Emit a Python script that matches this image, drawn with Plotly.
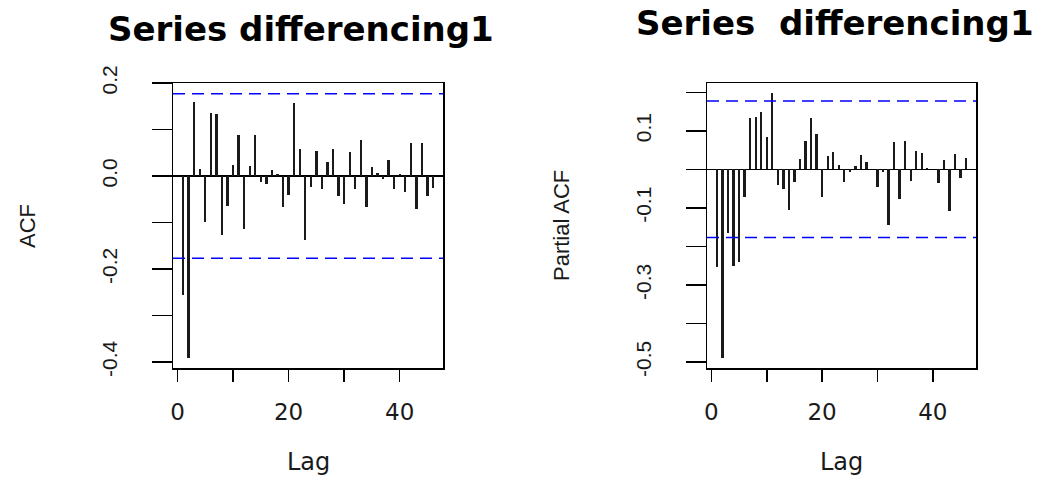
import plotly.graph_objects as go

W, H = 1056, 477
OFF = 0  # body margin removed by post_script below

lags = list(range(1, 47))
acf_vals = [-0.256, -0.391, 0.160, 0.016, -0.099, 0.136, 0.134, -0.126, -0.064, 0.024,
            0.089, -0.114, 0.021, 0.089, -0.014, -0.017, 0.012, 0.004, -0.067, -0.040,
            0.157, 0.057, -0.138, -0.023, 0.054, -0.029, 0.030, 0.057, -0.044, -0.061,
            0.051, -0.029, 0.077, -0.067, 0.019, 0.006, -0.007, 0.034, -0.029, 0.004,
            -0.035, 0.071, -0.070, 0.071, -0.044, -0.026]
pacf_vals = [-0.254, -0.490, -0.165, -0.250, -0.241, -0.073, 0.134, 0.137, 0.148, 0.084,
             0.198, -0.040, -0.051, -0.105, -0.034, 0.026, 0.073, 0.134, 0.091, -0.073,
             0.034, 0.045, 0.012, -0.034, -0.008, 0.009, 0.037, 0.020, 0.002, -0.047,
             -0.008, -0.144, 0.070, -0.076, 0.073, -0.029, 0.048, 0.042, 0.003, 0.001,
             -0.036, 0.023, -0.108, 0.041, -0.022, 0.030]
ci_bound = 0.177

x_tickvals = [0, 10, 20, 30, 40]
x_ticktext = ["0", "", "20", "", "40"]
acf_tickvals = [-0.4, -0.3, -0.2, -0.1, 0.0, 0.1, 0.2]
acf_ticktext = ["-0.4", "", "-0.2", "", "0.0", "", "0.2"]
pacf_tickvals = [-0.5, -0.4, -0.3, -0.2, -0.1, 0.0, 0.1, 0.2]
pacf_ticktext = ["-0.5", "", "-0.3", "", "-0.1", "", "0.1", ""]

titles = ["Series differencing1", "Series\u00a0 differencing1"]
ylabels = ["ACF", "Partial ACF"]
xlabel = "Lag"

INK = "#1a1a1a"
XFONT = dict(family="DejaVu Sans", size=23, color=INK)
YFONT = dict(family="Liberation Sans", size=21, color=INK)

def px_x(p):
    return (p - OFF) / W

def px_y(p):
    return 1 - (p - OFF) / H

fig = go.Figure()
fig.add_trace(go.Bar(x=lags, y=acf_vals, width=0.42, marker_color=INK,
                     marker_line_width=0, xaxis="x", yaxis="y", showlegend=False))
fig.add_trace(go.Bar(x=lags, y=pacf_vals, width=0.42, marker_color=INK,
                     marker_line_width=0, xaxis="x2", yaxis="y2", showlegend=False))

common_x = dict(range=[-0.8, 47.8], tickvals=x_tickvals, ticktext=x_ticktext,
                ticks="outside", ticklen=12, tickwidth=1.5, tickcolor="black",
                showline=True, linecolor="black", linewidth=1.5, mirror=True,
                showgrid=False, zeroline=False, tickfont=XFONT, ticklabelstandoff=11,
                automargin=False)
common_y = dict(ticks="outside", ticklen=20, tickwidth=1.5, tickcolor="black",
                showline=True, linecolor="black", linewidth=1.5, mirror=True,
                showgrid=False, zeroline=True, zerolinecolor="black", zerolinewidth=1.5,
                tickfont=YFONT, tickangle=-90, ticklabelstandoff=26, automargin=False)

fig.update_layout(
    template=go.layout.Template(),
    width=W, height=H, margin=dict(l=0, r=0, t=0, b=0, pad=0), autosize=False,
    paper_bgcolor="white", plot_bgcolor="white", bargap=0,
    xaxis=dict(domain=[px_x(173), px_x(443)], anchor="y", **common_x),
    yaxis=dict(domain=[px_y(368), px_y(83)], anchor="x", range=[-0.413, 0.2],
               tickvals=acf_tickvals, ticktext=acf_ticktext, **common_y),
    xaxis2=dict(domain=[px_x(707), px_x(976)], anchor="y2", **common_x),
    yaxis2=dict(domain=[px_y(368), px_y(83)], anchor="x2", range=[-0.5155, 0.224],
                tickvals=pacf_tickvals, ticktext=pacf_ticktext, **common_y),
)

for xr, yr in [("x", "y"), ("x2", "y2")]:
    for v in (ci_bound, -ci_bound):
        fig.add_shape(type="line", xref=xr + " domain", yref=yr, x0=0, x1=1, y0=v, y1=v,
                      line=dict(color="blue", width=1.5, dash="12px,7px"))

ann = []
ann.append(dict(text="<b>%s</b>" % titles[0], x=px_x(301), y=px_y(29)))
ann.append(dict(text="<b>%s</b>" % titles[1], x=px_x(835), y=px_y(23)))
for a in ann:
    a.update(xref="paper", yref="paper", showarrow=False, xanchor="center", yanchor="middle",
             font=dict(family="DejaVu Sans", size=34, color="black"))
for cx in (308, 841):
    ann.append(dict(text=xlabel, x=px_x(cx), y=px_y(462), xref="paper", yref="paper",
                    showarrow=False, xanchor="center", yanchor="middle",
                    font=dict(family="DejaVu Sans", size=24, color=INK)))
ann.append(dict(text=ylabels[0], x=px_x(27), y=px_y(226), xref="paper", yref="paper",
                showarrow=False, xanchor="center", yanchor="middle", textangle=-90,
                font=dict(family="Liberation Sans", size=22, color=INK)))
ann.append(dict(text=ylabels[1], x=px_x(561), y=px_y(226), xref="paper", yref="paper",
                showarrow=False, xanchor="center", yanchor="middle", textangle=-90,
                font=dict(family="Liberation Sans", size=22, color=INK)))
fig.update_layout(annotations=ann)

fig.write_html("out.html", config={"displayModeBar": False, "staticPlot": True},
               post_script="document.body.style.margin='0';document.body.style.overflow='hidden';")
